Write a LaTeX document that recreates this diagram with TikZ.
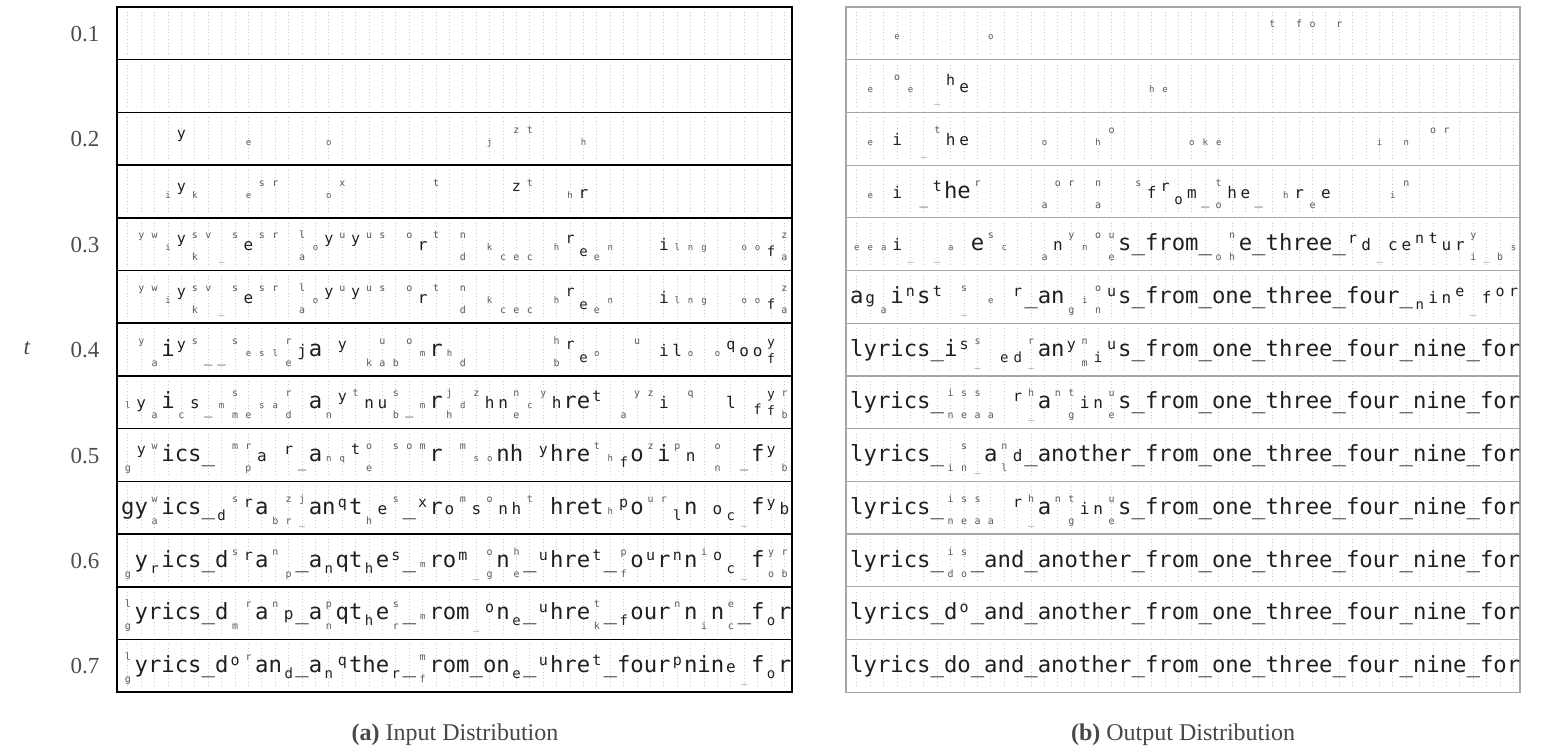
\documentclass[tikz,border=0pt]{standalone}
\usepackage{fontspec}
\setmainfont{Liberation Serif}
\newfontfamily\monof{DejaVu Sans Mono}
\newdimen\qcw \qcw=13.4pt
\newcommand\qbf{\fontsize{22.26pt}{24pt}\selectfont}
\newcommand\qB[1]{{#1}\ignorespaces}
\newcommand\qm[1]{\makebox[\qcw][c]{\fontsize{16pt}{16pt}\selectfont #1}\ignorespaces}
\newcommand\qv[1]{\makebox[\qcw][c]{\raisebox{7pt}{\fontsize{15pt}{15pt}\selectfont #1}}\ignorespaces}
\newcommand\qw[1]{\makebox[\qcw][c]{\raisebox{-6pt}{\fontsize{14pt}{14pt}\selectfont #1}}\ignorespaces}
\newcommand\qu[1]{\makebox[\qcw][c]{\raisebox{12pt}{\fontsize{10pt}{10pt}\selectfont\color{black!65}#1}}\ignorespaces}
\newcommand\qd[1]{\makebox[\qcw][c]{\raisebox{-10pt}{\fontsize{10pt}{10pt}\selectfont\color{black!65}#1}}\ignorespaces}
\newcommand\qs[1]{\makebox[\qcw][c]{\fontsize{9pt}{9pt}\selectfont\color{black!65}#1}\ignorespaces}
\newcommand\qp[2]{\makebox[\qcw][c]{\makebox[0pt][c]{\raisebox{12pt}{\fontsize{10pt}{10pt}\selectfont\color{black!65}#1}}\makebox[0pt][c]{\raisebox{-10pt}{\fontsize{10pt}{10pt}\selectfont\color{black!65}#2}}}\ignorespaces}
\newcommand\qP[2]{\makebox[\qcw][c]{\makebox[0pt][c]{\raisebox{10pt}{\fontsize{13pt}{13pt}\selectfont #1}}\makebox[0pt][c]{\raisebox{-7pt}{\fontsize{13pt}{13pt}\selectfont #2}}}\ignorespaces}
\newcommand\qe[1]{\hspace*{#1\qcw}\ignorespaces}
\begin{document}
\begin{tikzpicture}[x=1pt,y=-1pt,
  lab/.style={font=\fontsize{23pt}{23pt}\selectfont, text=black!70, inner sep=0pt},
  captxt/.style={font=\fontsize{24pt}{24pt}\selectfont, text=black!72, inner sep=0pt},
  rowtxt/.style={anchor=base west, inner sep=0pt, font=\monof\qbf, text=black!88},
  dotcol/.style={gray!42, line width=0.6pt, dash pattern=on 0.8pt off 2.6pt},
  lframe/.style={draw=black, line width=1.6pt},
  rframe/.style={draw=gray!70, line width=1.2pt}]
\useasboundingbox (0,0) rectangle (1552,752);
% texture of tiny stacked characters
\foreach \r in {0,...,12}{
  \foreach \c in {0,...,49}{
    \draw[dotcol] ({127.7+13.4*\c},{12+52.7*\r}) -- ++(0,43);
    \draw[dotcol] ({856.7+13.4*\c},{12+52.7*\r}) -- ++(0,43);
  }
}
% frames
\foreach \r in {0,...,12}{
  \draw[lframe] (117,{7+52.7*\r}) rectangle (792,{7+52.7*(\r+1)});
  \draw[rframe] (846,{7+52.7*\r}) rectangle (1520,{7+52.7*(\r+1)});
}
% ---------------- left panel ----------------
\node[rowtxt] (L3) at (121,145.4) {\qe{4}\qv{y}\qe{4}\qs{e}\qe{5}\qs{o}\qe{11}\qs{j}\qe{1}\qu{z}\qu{t}\qe{3}\qs{h}};
\node[rowtxt] (L4) at (121,198.1) {\qe{3}\qs{i}\qv{y}\qs{k}\qe{3}\qs{e}\qu{s}\qu{r}\qe{3}\qs{o}\qu{x}\qe{6}\qu{t}\qe{5}\qv{z}\qu{t}\qe{2}\qs{h}\qm{r}};
\node[rowtxt] (L5) at (121,250.8) {\qe{1}\qu{y}\qu{w}\qs{i}\qv{y}\qp{s}{k}\qu{v}\qd{\_}\qu{s}\qm{e}\qu{s}\qu{r}\qe{1}\qp{l}{a}\qs{o}\qv{y}\qu{u}\qv{y}\qu{u}\qu{s}\qe{1}\qu{o}\qm{r}\qu{t}\qe{1}\qp{n}{d}\qe{1}\qs{k}\qd{c}\qd{e}\qd{c}\qe{1}\qs{h}\qv{r}\qw{e}\qd{e}\qs{n}\qe{3}\qm{i}\qs{l}\qs{n}\qs{g}\qe{2}\qs{o}\qs{o}\qw{f}\qp{z}{a}};
\node[rowtxt] (L6) at (121,303.5) {\qe{1}\qu{y}\qu{w}\qs{i}\qv{y}\qp{s}{k}\qu{v}\qd{\_}\qu{s}\qm{e}\qu{s}\qu{r}\qe{1}\qp{l}{a}\qs{o}\qv{y}\qu{u}\qv{y}\qu{u}\qu{s}\qe{1}\qu{o}\qm{r}\qu{t}\qe{1}\qp{n}{d}\qe{1}\qs{k}\qd{c}\qd{e}\qd{c}\qe{1}\qs{h}\qv{r}\qw{e}\qd{e}\qs{n}\qe{3}\qm{i}\qs{l}\qs{n}\qs{g}\qe{2}\qs{o}\qs{o}\qw{f}\qp{z}{a}};
\node[rowtxt] (L7) at (121,356.2) {\qe{1}\qu{y}\qd{a}\qB{i}\qv{y}\qu{s}\qw{\_}\qw{\_}\qu{s}\qs{e}\qs{s}\qs{l}\qp{r}{e}\qm{j}\qB{a}\qe{1}\qv{y}\qe{1}\qd{k}\qp{u}{a}\qd{b}\qu{o}\qs{m}\qB{r}\qs{h}\qd{d}\qe{6}\qp{h}{b}\qv{r}\qw{e}\qs{o}\qe{2}\qu{u}\qe{1}\qm{i}\qm{l}\qs{o}\qe{1}\qs{o}\qv{q}\qm{o}\qm{o}\qP{y}{f}\qe{1}};
\node[rowtxt] (L8) at (121,408.9) {\qs{l}\qm{y}\qd{a}\qB{i}\qd{c}\qm{s}\qw{\_}\qs{m}\qp{s}{m}\qd{e}\qs{s}\qs{a}\qp{r}{d}\qe{1}\qB{a}\qd{n}\qv{y}\qu{t}\qm{n}\qm{u}\qp{s}{b}\qw{\_}\qs{m}\qB{r}\qp{j}{h}\qs{d}\qu{z}\qm{h}\qm{n}\qp{n}{e}\qs{c}\qu{y}\qm{h}\qB{re}\qv{t}\qe{1}\qd{a}\qu{y}\qu{z}\qm{i}\qe{1}\qu{q}\qe{2}\qm{l}\qe{1}\qw{f}\qP{y}{f}\qp{r}{b}};
\node[rowtxt] (L9) at (121,461.6) {\qd{g}\qv{y}\qu{w}\qB{ics\_}\qe{1}\qu{m}\qp{r}{p}\qm{a}\qe{1}\qv{r}\qw{\_}\qB{a}\qs{n}\qs{q}\qv{t}\qp{o}{e}\qe{1}\qu{s}\qu{o}\qu{m}\qB{r}\qe{1}\qu{m}\qs{s}\qs{o}\qB{nh}\qe{1}\qv{y}\qB{hre}\qu{t}\qs{h}\qw{f}\qB{o}\qu{z}\qB{i}\qu{p}\qm{n}\qe{1}\qp{o}{n}\qe{1}\qw{\_}\qB{f}\qv{y}\qd{b}};
\node[rowtxt] (L10) at (121,514.3) {\qB{gy}\qp{w}{a}\qB{ics\_}\qw{d}\qu{s}\qv{r}\qB{a}\qd{b}\qp{z}{r}\qp{j}{\_}\qB{an}\qv{q}\qB{t}\qd{h}\qm{e}\qu{s}\qB{\_}\qv{x}\qB{r}\qm{o}\qu{m}\qm{s}\qu{o}\qm{n}\qm{h}\qu{t}\qe{1}\qB{hret}\qs{h}\qv{p}\qB{o}\qu{u}\qu{r}\qw{l}\qB{n}\qe{1}\qm{o}\qw{c}\qd{\_}\qB{f}\qv{y}\qm{b}};
\node[rowtxt] (L11) at (121,567) {\qd{g}\qB{y}\qw{r}\qB{ics\_d}\qu{s}\qv{r}\qB{a}\qu{n}\qd{p}\qB{\_a}\qw{n}\qB{qt}\qw{h}\qB{e}\qv{s}\qB{\_}\qs{m}\qB{ro}\qv{m}\qd{\_}\qp{o}{g}\qB{n}\qp{h}{e}\qB{\_}\qv{u}\qB{hre}\qv{t}\qB{\_}\qp{p}{f}\qB{o}\qv{u}\qB{r}\qv{n}\qB{n}\qu{i}\qv{o}\qw{c}\qd{\_}\qB{f}\qp{y}{o}\qp{r}{b}};
\node[rowtxt] (L12) at (121,619.7) {\qp{l}{g}\qB{yrics\_d}\qd{m}\qu{r}\qB{a}\qu{n}\qm{p}\qB{\_a}\qp{p}{n}\qB{qt}\qw{h}\qB{e}\qp{s}{r}\qB{\_}\qs{m}\qB{rom}\qd{\_}\qv{o}\qB{n}\qw{e}\qB{\_}\qv{u}\qB{hre}\qp{t}{k}\qB{\_}\qw{f}\qB{our}\qu{n}\qB{n}\qd{i}\qB{n}\qp{e}{c}\qB{\_f}\qw{o}\qB{r}};
\node[rowtxt] (L13) at (121,672.4) {\qp{l}{g}\qB{yrics\_d}\qv{o}\qu{r}\qB{an}\qw{d}\qB{\_a}\qw{n}\qv{q}\qB{the}\qw{r}\qB{\_}\qp{m}{f}\qB{rom\_on}\qw{e}\qB{\_}\qv{u}\qB{hre}\qv{t}\qB{\_four}\qv{p}\qB{nin}\qm{e}\qd{\_}\qB{f}\qw{o}\qB{r}};
% ---------------- right panel ----------------
\node[rowtxt] (R1) at (850,40) {\qe{3}\qs{e}\qe{6}\qs{o}\qe{20}\qu{t}\qe{1}\qu{f}\qu{o}\qe{1}\qu{r}};
\node[rowtxt] (R2) at (850,92.7) {\qe{1}\qs{e}\qe{1}\qu{o}\qs{e}\qe{1}\qd{\_}\qv{h}\qm{e}\qe{13}\qs{h}\qs{e}};
\node[rowtxt] (R3) at (850,145.4) {\qe{1}\qs{e}\qe{1}\qm{i}\qe{1}\qd{\_}\qu{t}\qm{h}\qm{e}\qe{5}\qs{o}\qe{3}\qs{h}\qu{o}\qe{5}\qs{o}\qs{k}\qs{e}\qe{11}\qs{i}\qe{1}\qs{n}\qe{1}\qu{o}\qu{r}};
\node[rowtxt] (R4) at (850,198.1) {\qe{1}\qs{e}\qe{1}\qm{i}\qe{1}\qw{\_}\qv{t}\qB{he}\qu{r}\qe{4}\qd{a}\qu{o}\qu{r}\qe{1}\qp{n}{a}\qe{2}\qu{s}\qm{f}\qv{r}\qw{o}\qm{m}\qw{\_}\qp{t}{o}\qm{h}\qm{e}\qw{\_}\qe{1}\qs{h}\qm{r}\qd{e}\qm{e}\qe{4}\qs{i}\qu{n}};
\node[rowtxt] (R5) at (850,250.8) {\qs{e}\qs{e}\qs{a}\qm{i}\qd{\_}\qe{1}\qd{\_}\qs{a}\qe{1}\qB{e}\qu{s}\qs{c}\qe{2}\qd{a}\qm{n}\qu{y}\qs{n}\qu{o}\qp{u}{e}\qB{s\_from\_}\qd{o}\qp{n}{h}\qB{e\_three\_}\qv{r}\qm{d}\qd{\_}\qm{c}\qm{e}\qv{n}\qv{t}\qm{u}\qm{r}\qp{y}{i}\qd{\_}\qd{b}\qs{s}};
\node[rowtxt] (R6) at (850,303.5) {\qB{a}\qm{g}\qd{a}\qB{i}\qv{n}\qB{s}\qv{t}\qe{1}\qp{s}{\_}\qe{1}\qs{e}\qe{1}\qv{r}\qB{\_an}\qd{g}\qs{i}\qp{o}{n}\qv{u}\qB{s\_from\_one\_three\_four\_}\qw{n}\qm{i}\qm{n}\qv{e}\qd{\_}\qm{f}\qv{o}\qv{r}};
\node[rowtxt] (R7) at (850,356.2) {\qB{lyrics\_i}\qv{s}\qp{s}{\_}\qe{1}\qw{e}\qw{d}\qp{r}{\_}\qB{an}\qv{y}\qp{n}{m}\qw{i}\qv{u}\qB{s\_from\_one\_three\_four\_nine\_for}};
\node[rowtxt] (R8) at (850,408.9) {\qB{lyrics\_}\qp{i}{n}\qp{s}{e}\qp{s}{a}\qd{a}\qe{1}\qv{r}\qp{h}{\_}\qB{a}\qu{n}\qp{t}{g}\qm{i}\qm{n}\qp{u}{e}\qB{s\_from\_one\_three\_four\_nine\_for}};
\node[rowtxt] (R9) at (850,461.6) {\qB{lyrics\_}\qd{i}\qp{s}{n}\qd{\_}\qB{a}\qp{n}{l}\qm{d}\qB{\_another\_from\_one\_three\_four\_nine\_for}};
\node[rowtxt] (R10) at (850,514.3) {\qB{lyrics\_}\qp{i}{n}\qp{s}{e}\qp{s}{a}\qd{a}\qe{1}\qv{r}\qp{h}{\_}\qB{a}\qu{n}\qp{t}{g}\qm{i}\qm{n}\qp{u}{e}\qB{s\_from\_one\_three\_four\_nine\_for}};
\node[rowtxt] (R11) at (850,567) {\qB{lyrics\_}\qp{i}{d}\qp{s}{o}\qB{\_and\_another\_from\_one\_three\_four\_nine\_for}};
\node[rowtxt] (R12) at (850,619.7) {\qB{lyrics\_d}\qv{o}\qB{\_and\_another\_from\_one\_three\_four\_nine\_for}};
\node[rowtxt] (R13) at (850,672.4) {\qB{lyrics\_do\_and\_another\_from\_one\_three\_four\_nine\_for}};
% ---------------- labels ----------------
\node[lab] (t1) at (85,34) {0.1};
\node[lab] (t2) at (85,139.5) {0.2};
\node[lab] (t3) at (85,245) {0.3};
\node[lab] (t4) at (85,350) {0.4};
\node[lab] (t5) at (85,456) {0.5};
\node[lab] (t6) at (85,561) {0.6};
\node[lab] (t7) at (85,666) {0.7};
\node[lab] (tt) at (27,348) {\textit{t}};
\node[captxt] (ca) at (455,735) {\textbf{(a)} Input Distribution};
\node[captxt] (cb) at (1183,735) {\textbf{(b)} Output Distribution};
\end{tikzpicture}
\end{document}
